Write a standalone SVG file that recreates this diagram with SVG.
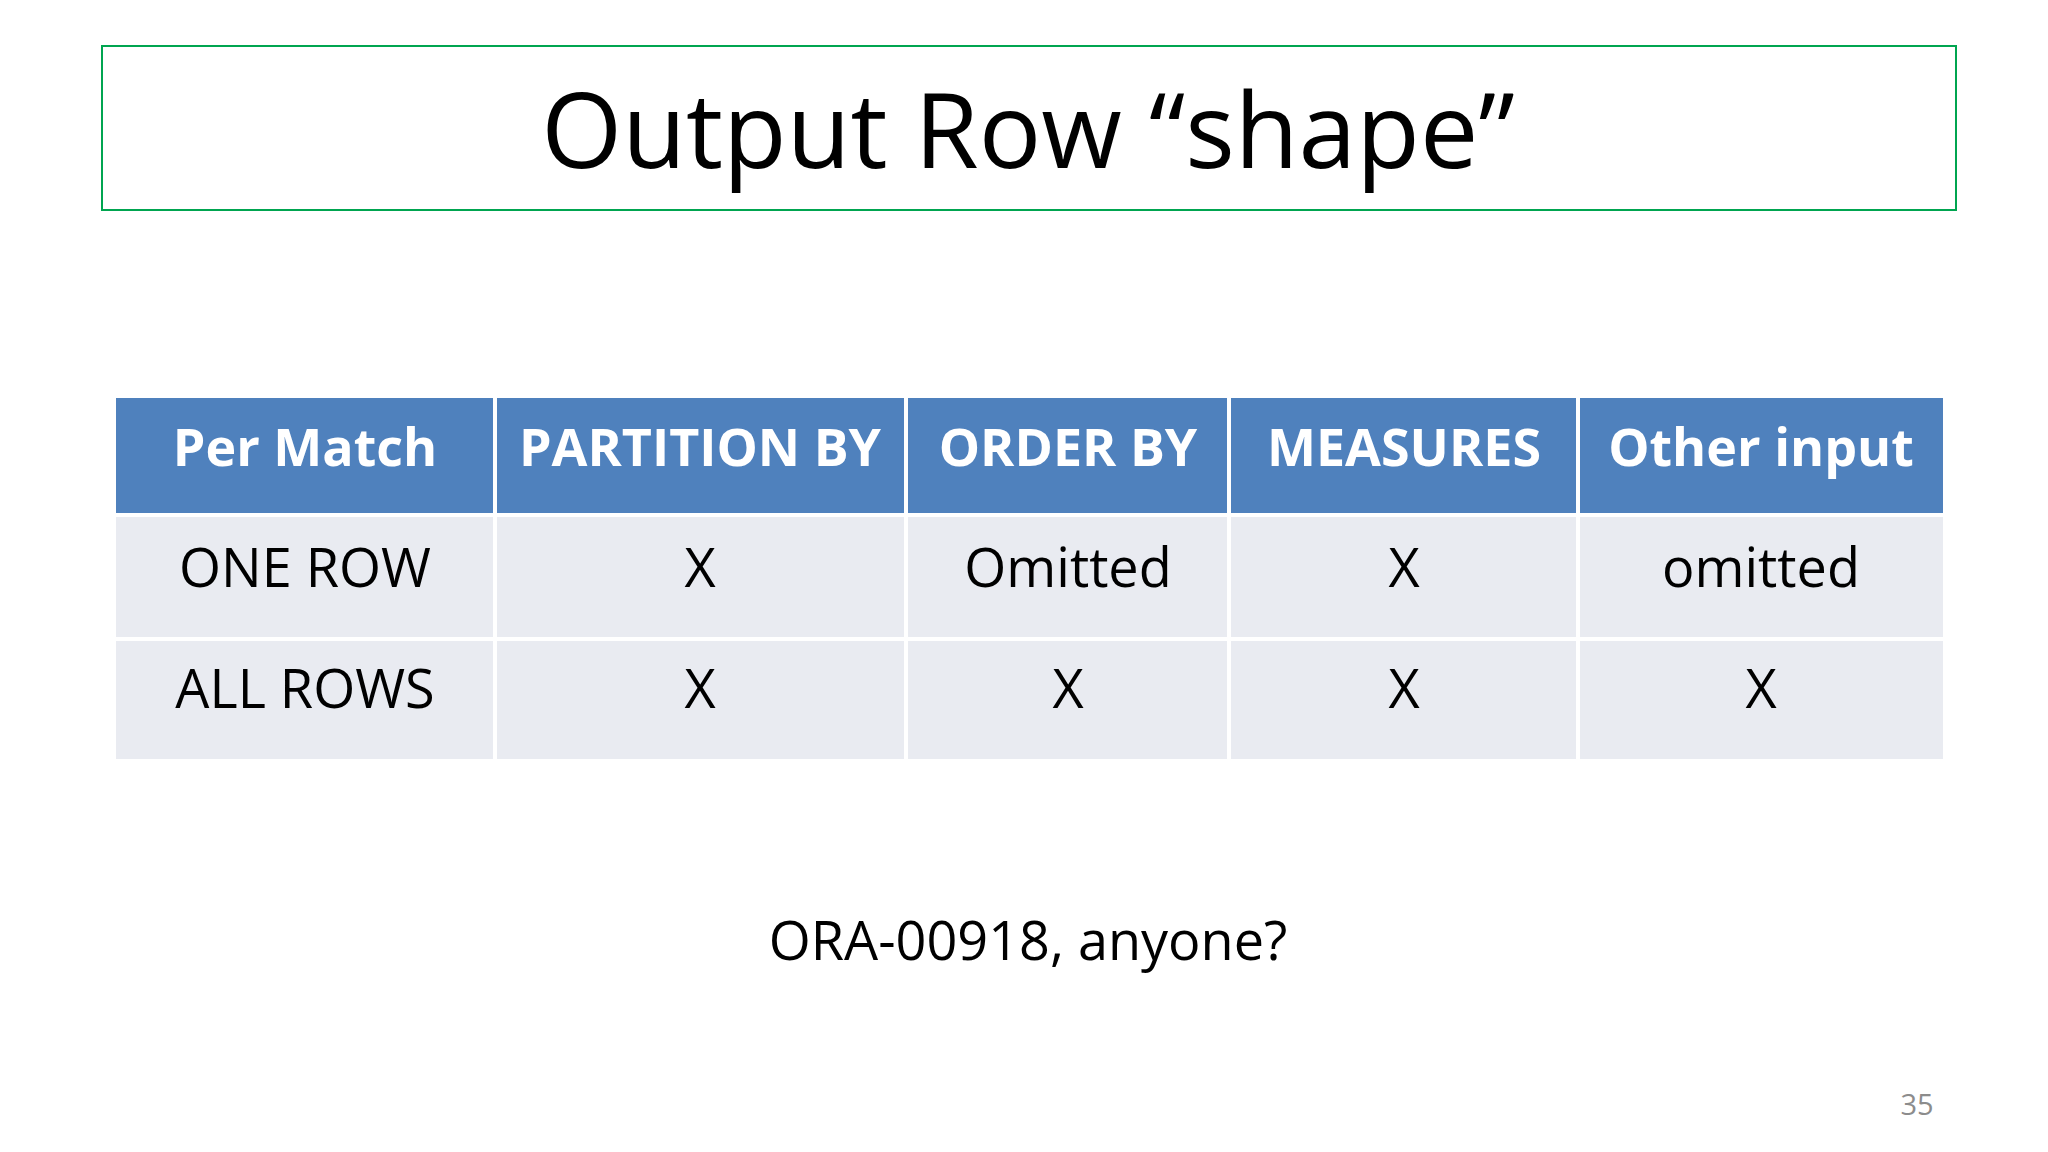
<svg xmlns="http://www.w3.org/2000/svg" width="2048" height="1152" viewBox="0 0 2048 1152">
<style>
.h{fill:#4F81BD}
.c{fill:#E9EBF1}
.ht{font-family:"Open Sans","Liberation Sans",sans-serif;font-weight:bold;font-size:52px;fill:#fff;text-anchor:middle}
.t{font-family:"Open Sans","Liberation Sans",sans-serif;font-size:54px;fill:#000;text-anchor:middle}
.g{stroke:#fff;stroke-width:4}
</style>
<rect width="2048" height="1152" fill="#fff"/>
<g id="title">
<rect x="102" y="46" width="1854" height="164" fill="none" stroke="#00A550" stroke-width="2"/>
<text x="1028" y="168" font-family="Open Sans, Liberation Sans, sans-serif" font-size="104" text-anchor="middle">Output Row “shape”</text>
</g>
<g id="table">
<rect class="h" x="116" y="398" width="1827" height="115"/>
<rect class="c" x="116" y="515" width="1827" height="244"/>
<g class="g">
<line x1="116" y1="515" x2="1943" y2="515"/>
<line x1="116" y1="639" x2="1943" y2="639"/>
<line x1="495" y1="398" x2="495" y2="759"/>
<line x1="906" y1="398" x2="906" y2="759"/>
<line x1="1229" y1="398" x2="1229" y2="759"/>
<line x1="1578" y1="398" x2="1578" y2="759"/>
</g>
<text class="ht" x="305" y="466">Per Match</text>
<text class="ht" x="700" y="466">PARTITION BY</text>
<text class="ht" x="1068" y="466">ORDER BY</text>
<text class="ht" x="1404" y="466">MEASURES</text>
<text class="ht" x="1761" y="466">Other input</text>
<text class="t" x="305" y="587">ONE ROW</text>
<text class="t" x="700" y="587">X</text>
<text class="t" x="1068" y="587">Omitted</text>
<text class="t" x="1404" y="587">X</text>
<text class="t" x="1761" y="587">omitted</text>
<text class="t" x="305" y="708">ALL ROWS</text>
<text class="t" x="700" y="708">X</text>
<text class="t" x="1068" y="708">X</text>
<text class="t" x="1404" y="708">X</text>
<text class="t" x="1761" y="708">X</text>
</g>
<g id="note">
<text class="t" x="1028" y="960">ORA-00918, anyone?</text>
<text x="1917" y="1115" font-family="Open Sans, Liberation Sans, sans-serif" font-size="29" fill="#8c8c8c" text-anchor="middle">35</text>
</g>
</svg>
